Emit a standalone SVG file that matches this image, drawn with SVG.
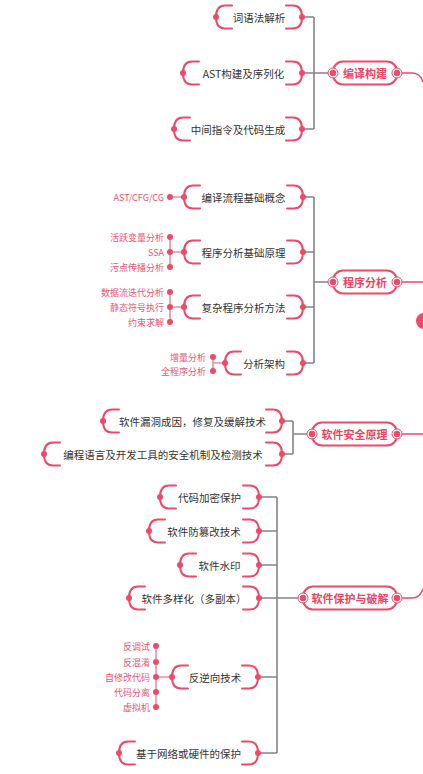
<svg xmlns="http://www.w3.org/2000/svg" xmlns:xlink="http://www.w3.org/1999/xlink" width="423" height="774" viewBox="0 0 423 774">
<style>
text{font-family:"Noto Sans CJK SC","Liberation Sans",sans-serif;dominant-baseline:central}
.nt{font-size:10.5px;fill:#333;text-anchor:middle}
.mt{font-size:11px;font-weight:bold;fill:#E8465F;text-anchor:middle}
.ct{font-size:9px;fill:#E9546F;text-anchor:end}
.br{fill:none;stroke:#EB4A69;stroke-width:2;stroke-linecap:round}
.dot{fill:#EB4A69}
.gl{fill:none;stroke:#848484;stroke-width:1.6}
.pl{fill:none;stroke:#F08DA0;stroke-width:1.6}
.rl{fill:none;stroke:#EB4A69;stroke-width:1.5}
.pill{fill:#fff;stroke:#EB4A69;stroke-width:2}
.ring{fill:#fff;stroke:#EB4A69;stroke-width:1}
</style>
<defs>
<path id="bl" class="br" d="M16,-11.5 H9 Q0,-11.5 0,0 Q0,11.5 9,11.5 H16"/>
<g id="mc"><circle class="ring" r="5"/><circle class="dot" r="3.2"/></g>
</defs>

<g id="connectors">
<path class="gl" d="M302,17 H314 M302,73 H328 M302,129 H314 M314,17 V129"/>
<path class="gl" d="M303,197 H314 M303,252 H314 M303,307 H314 M303,363 H314 M314,197 V363 M314,282 H328"/>
<path class="gl" d="M282,421 H293 M282,454 H293 M293,421 V454 M293,434 H307"/>
<path class="gl" d="M259,497 H277 M259,531 H277 M259,565 H277 M259,598 H298 M258,677 H277 M258,753 H277 M277,497 V753"/>
<path class="pl" d="M170,197 H184 M170,237 V267 M170,252 H184 M170,292 V322 M170,307 H184 M213,357 V371 M213,363 H225 M156,646 V707 M156,677 H172"/>
<path class="rl" d="M402,73 H412 C418,73 421,76 423,82"/>
<path class="rl" d="M402,282 H423"/>
<path class="rl" d="M402,434 H423"/>
<path class="rl" d="M402,598 H412 C418,598 421,595 423,589"/>
</g>

<g id="root"><circle class="dot" cx="424" cy="321" r="8"/></g>

<g id="m1"><rect class="pill" x="333" y="61.5" width="64" height="23" rx="10"/><use href="#mc" x="333" y="73"/><use href="#mc" x="397" y="73"/><text class="mt" x="365" y="73">编译构建</text></g>
<g id="m2"><rect class="pill" x="333" y="270.5" width="64" height="23" rx="10"/><use href="#mc" x="333" y="282"/><use href="#mc" x="397" y="282"/><text class="mt" x="365" y="282">程序分析</text></g>
<g id="m3"><rect class="pill" x="312" y="422.5" width="85" height="23" rx="10"/><use href="#mc" x="312" y="434"/><use href="#mc" x="397" y="434"/><text class="mt" x="354.5" y="434">软件安全原理</text></g>
<g id="m4"><rect class="pill" x="303" y="586.5" width="94" height="23" rx="10"/><use href="#mc" x="303" y="598"/><use href="#mc" x="397" y="598"/><text class="mt" x="350" y="598">软件保护与破解</text></g>

<g id="n1"><use href="#bl" transform="translate(216,17)"/><use href="#bl" transform="translate(302,17) scale(-1,1)"/><circle class="dot" cx="216" cy="17" r="3"/><circle class="dot" cx="302" cy="17" r="3"/><text class="nt" x="259" y="17">词语法解析</text></g>
<g id="n2"><use href="#bl" transform="translate(183,73)"/><use href="#bl" transform="translate(302,73) scale(-1,1)"/><circle class="dot" cx="183" cy="73" r="3"/><circle class="dot" cx="302" cy="73" r="3"/><text class="nt" x="243.5" y="73">AST构建及序列化</text></g>
<g id="n3"><use href="#bl" transform="translate(174,129)"/><use href="#bl" transform="translate(302,129) scale(-1,1)"/><circle class="dot" cx="174" cy="129" r="3"/><circle class="dot" cx="302" cy="129" r="3"/><text class="nt" x="238" y="129">中间指令及代码生成</text></g>

<g id="n4"><use href="#bl" transform="translate(184,197)"/><use href="#bl" transform="translate(303,197) scale(-1,1)"/><circle class="dot" cx="184" cy="197" r="3"/><circle class="dot" cx="303" cy="197" r="3"/><text class="nt" x="243.5" y="197">编译流程基础概念</text></g>
<g id="n4c"><circle class="dot" cx="170" cy="197" r="3"/><text class="ct" x="164" y="197">AST/CFG/CG</text></g>
<g id="n5"><use href="#bl" transform="translate(184,252)"/><use href="#bl" transform="translate(303,252) scale(-1,1)"/><circle class="dot" cx="184" cy="252" r="3"/><circle class="dot" cx="303" cy="252" r="3"/><text class="nt" x="243.5" y="252">程序分析基础原理</text></g>
<g id="n5c"><circle class="dot" cx="170" cy="237" r="3"/><circle class="dot" cx="170" cy="252" r="3"/><circle class="dot" cx="170" cy="267" r="3"/><text class="ct" x="164" y="237">活跃变量分析</text><text class="ct" x="164" y="252">SSA</text><text class="ct" x="164" y="267">污点传播分析</text></g>
<g id="n6"><use href="#bl" transform="translate(184,307)"/><use href="#bl" transform="translate(303,307) scale(-1,1)"/><circle class="dot" cx="184" cy="307" r="3"/><circle class="dot" cx="303" cy="307" r="3"/><text class="nt" x="243.5" y="307">复杂程序分析方法</text></g>
<g id="n6c"><circle class="dot" cx="170" cy="292" r="3"/><circle class="dot" cx="170" cy="307" r="3"/><circle class="dot" cx="170" cy="322" r="3"/><text class="ct" x="164" y="292">数据流迭代分析</text><text class="ct" x="164" y="307">静态符号执行</text><text class="ct" x="164" y="322">约束求解</text></g>
<g id="n7"><use href="#bl" transform="translate(225,363)"/><use href="#bl" transform="translate(303,363) scale(-1,1)"/><circle class="dot" cx="225" cy="363" r="3"/><circle class="dot" cx="303" cy="363" r="3"/><text class="nt" x="264" y="363">分析架构</text></g>
<g id="n7c"><circle class="dot" cx="213" cy="357" r="3"/><circle class="dot" cx="213" cy="371" r="3"/><text class="ct" x="206" y="357">增量分析</text><text class="ct" x="206" y="371">全程序分析</text></g>

<g id="n8"><use href="#bl" transform="translate(103,421)"/><use href="#bl" transform="translate(282,421) scale(-1,1)"/><circle class="dot" cx="103" cy="421" r="3"/><circle class="dot" cx="282" cy="421" r="3"/><text class="nt" x="192.5" y="421">软件漏洞成因，修复及缓解技术</text></g>
<g id="n9"><use href="#bl" transform="translate(44,454)"/><use href="#bl" transform="translate(282,454) scale(-1,1)"/><circle class="dot" cx="44" cy="454" r="3"/><circle class="dot" cx="282" cy="454" r="3"/><text class="nt" x="163" y="454">编程语言及开发工具的安全机制及检测技术</text></g>

<g id="n10"><use href="#bl" transform="translate(160,497)"/><use href="#bl" transform="translate(259,497) scale(-1,1)"/><circle class="dot" cx="160" cy="497" r="3"/><circle class="dot" cx="259" cy="497" r="3"/><text class="nt" x="209.5" y="497">代码加密保护</text></g>
<g id="n11"><use href="#bl" transform="translate(149,531)"/><use href="#bl" transform="translate(259,531) scale(-1,1)"/><circle class="dot" cx="149" cy="531" r="3"/><circle class="dot" cx="259" cy="531" r="3"/><text class="nt" x="204" y="531">软件防篡改技术</text></g>
<g id="n12"><use href="#bl" transform="translate(180,565)"/><use href="#bl" transform="translate(259,565) scale(-1,1)"/><circle class="dot" cx="180" cy="565" r="3"/><circle class="dot" cx="259" cy="565" r="3"/><text class="nt" x="219.5" y="565">软件水印</text></g>
<g id="n13"><use href="#bl" transform="translate(129,598)"/><use href="#bl" transform="translate(259,598) scale(-1,1)"/><circle class="dot" cx="129" cy="598" r="3"/><circle class="dot" cx="259" cy="598" r="3"/><text class="nt" x="194" y="598">软件多样化（多副本）</text></g>
<g id="n14"><use href="#bl" transform="translate(172,677)"/><use href="#bl" transform="translate(258,677) scale(-1,1)"/><circle class="dot" cx="172" cy="677" r="3"/><circle class="dot" cx="258" cy="677" r="3"/><text class="nt" x="215" y="677">反逆向技术</text></g>
<g id="n14c"><circle class="dot" cx="156" cy="646" r="3"/><circle class="dot" cx="156" cy="662" r="3"/><circle class="dot" cx="156" cy="677" r="3"/><circle class="dot" cx="156" cy="692" r="3"/><circle class="dot" cx="156" cy="707" r="3"/><text class="ct" x="150" y="646">反调试</text><text class="ct" x="150" y="662">反混淆</text><text class="ct" x="150" y="677">自修改代码</text><text class="ct" x="150" y="692">代码分离</text><text class="ct" x="150" y="707">虚拟机</text></g>
<g id="n15"><use href="#bl" transform="translate(119,753)"/><use href="#bl" transform="translate(258,753) scale(-1,1)"/><circle class="dot" cx="119" cy="753" r="3"/><circle class="dot" cx="258" cy="753" r="3"/><text class="nt" x="188.5" y="753">基于网络或硬件的保护</text></g>
</svg>
